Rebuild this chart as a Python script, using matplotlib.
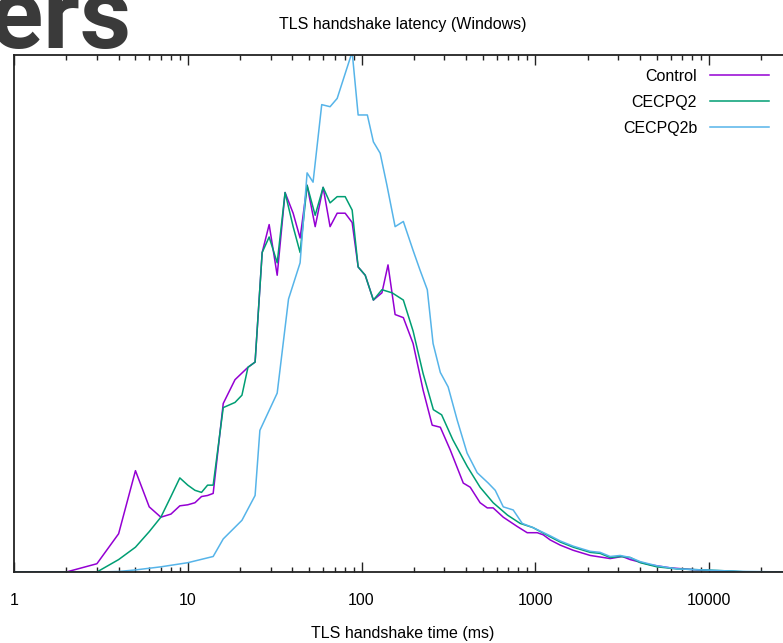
"""TLS handshake latency histogram (Windows), gnuplot-like look."""
import matplotlib
matplotlib.use("Agg")
import matplotlib.pyplot as plt
from matplotlib.ticker import LogLocator, FixedFormatter, FixedLocator, NullFormatter

plt.rcParams["font.family"] = ["Liberation Sans", "DejaVu Sans"]

# handshake time (ms) and share of handshakes (%) per bin
control_ms = [1, 2, 3, 4, 5, 6, 7, 8, 9, 10,
              11, 12, 13, 14, 16, 18.7, 22.2, 24.4, 26.8, 29.4,
              32.7, 36.3, 40.4, 44.3, 48.6, 54.1, 60.1, 65.9, 72.4, 80.5,
              88.3, 95.6, 105, 117, 131, 142, 156, 174, 198, 226,
              255, 284, 324, 385, 422, 481, 529, 572, 654, 787,
              898, 1026, 1110, 1218, 1391, 1652, 2070, 2697, 3164, 3517,
              4582, 5980, 8557, 11150, 15740, 30000]
control_pct = [0, 0, 0.08, 0.37, 0.98, 0.63, 0.53, 0.56, 0.64, 0.65,
               0.67, 0.73, 0.74, 0.76, 1.63, 1.86, 1.98, 2.03, 3.09, 3.36,
               2.87, 3.67, 3.47, 3.23, 3.74, 3.34, 3.72, 3.34, 3.47, 3.47,
               3.38, 2.95, 2.87, 2.63, 2.70, 2.97, 2.49, 2.46, 2.21, 1.76,
               1.42, 1.40, 1.18, 0.86, 0.82, 0.67, 0.62, 0.62, 0.53, 0.44,
               0.38, 0.38, 0.36, 0.31, 0.26, 0.21, 0.16, 0.13, 0.15, 0.12,
               0.07, 0.04, 0.02, 0.01, 0, 0]

cecpq2_ms = [1, 2, 3, 4, 5, 6, 7, 8, 9, 10,
             11, 12, 13, 14, 16, 18.7, 20.5, 22.2, 24.4, 26.8,
             29.4, 32.7, 36.3, 40.4, 44.3, 48.6, 54.1, 60.1, 65.9, 72.4,
             80.5, 88.3, 95.6, 105, 117, 131, 150, 174, 198, 226,
             259, 289, 335, 406, 481, 572, 692, 818, 968, 1218,
             1391, 1652, 2070, 2360, 2697, 3080, 3517, 4020, 5010, 6540,
             9250, 13100, 16400, 30000]
cecpq2_pct = [0, 0, 0, 0.12, 0.24, 0.39, 0.53, 0.73, 0.91, 0.84,
              0.79, 0.77, 0.84, 0.84, 1.59, 1.64, 1.71, 1.98, 2.03, 3.09,
              3.24, 2.99, 3.67, 3.34, 3.09, 3.74, 3.45, 3.72, 3.57, 3.63,
              3.63, 3.50, 2.95, 2.87, 2.63, 2.73, 2.70, 2.63, 2.33, 1.92,
              1.57, 1.52, 1.28, 1.02, 0.82, 0.67, 0.55, 0.47, 0.43, 0.34,
              0.29, 0.24, 0.19, 0.18, 0.14, 0.15, 0.14, 0.09, 0.05, 0.03,
              0.02, 0.01, 0, 0]

cecpq2b_ms = [1, 2, 3, 4, 5, 7, 10, 14, 16, 20.5,
              24.4, 26, 32.7, 38, 44.3, 48.6, 52.6, 59, 65.9, 72.4,
              88.3, 95.6, 108, 117, 128, 140, 156, 174, 198, 217,
              239, 258, 284, 315, 355, 405, 463, 536, 588, 654,
              746, 841, 968, 1218, 1391, 1652, 2070, 2360, 2697, 3080,
              3517, 4020, 5010, 6540, 9250, 13100, 16400, 30000]
cecpq2b_pct = [0, 0, 0, 0.005, 0.02, 0.05, 0.09, 0.15, 0.32, 0.50,
               0.74, 1.37, 1.73, 2.64, 2.99, 3.86, 3.77, 4.52, 4.50, 4.58,
               5.03, 4.42, 4.42, 4.16, 4.05, 3.74, 3.34, 3.39, 3.11, 2.92,
               2.73, 2.21, 1.93, 1.79, 1.47, 1.15, 0.96, 0.86, 0.79, 0.63,
               0.60, 0.47, 0.43, 0.35, 0.30, 0.25, 0.20, 0.19, 0.15, 0.16,
               0.14, 0.10, 0.06, 0.03, 0.02, 0.01, 0.005, 0]

xticks = [1, 10, 100, 1000, 10000]
xtick_labels = ["1", "10", "100", "1000", "10000"]

W, H = 783, 643
fig = plt.figure(figsize=(W / 100, H / 100), dpi=100)

# left, bottom, right, top of the plot box in pixels
L, R, T, B = 14, 792, 55, 572
ax = fig.add_axes([L / W, 1 - B / H, (R - L) / W, (B - T) / H])

ax.plot(control_ms, control_pct, color="#9400d3", lw=1.1, label="Control")
ax.plot(cecpq2_ms, cecpq2_pct, color="#009e73", lw=1.1, label="CECPQ2")
ax.plot(cecpq2b_ms, cecpq2b_pct, color="#56b4e9", lw=1.1, label="CECPQ2b")

ax.set_xscale("log")
ax.set_xlim(1, 30000)
ax.set_ylim(0, 5.0)

ax.xaxis.set_major_locator(FixedLocator(xticks))
ax.xaxis.set_major_formatter(FixedFormatter(xtick_labels))
ax.xaxis.set_minor_locator(LogLocator(base=10, subs=range(2, 10), numticks=20))
ax.xaxis.set_minor_formatter(NullFormatter())
ax.tick_params(axis="x", which="both", direction="in", top=True, bottom=True,
               colors="#222222", labelcolor="black", labelsize=11.5, pad=15)
ax.tick_params(axis="x", which="major", length=7, width=1.0)
ax.tick_params(axis="x", which="minor", length=3.5, width=1.0)
ax.set_yticks([])
for side in ["left", "top", "bottom"]:
    ax.spines[side].set_linewidth(1.3)
    ax.spines[side].set_color("#222222")
ax.spines["right"].set_visible(False)

ax.set_xlabel("TLS handshake time (ms)", fontsize=11.5, labelpad=13)
ax.set_title("TLS handshake latency (Windows)", fontsize=11.5, pad=19)

ax.legend(loc="upper right", bbox_to_anchor=(769 / W, 1 - 69 / H),
          bbox_transform=fig.transFigure, frameon=False, markerfirst=False,
          fontsize=11.5, handlelength=3.7, handletextpad=0.8,
          labelspacing=0.68, borderpad=0, borderaxespad=0)

# cropped page heading visible in the top-left corner of the screenshot
fig.text(132 / W, 1 - 48 / H, "bers", fontsize=72, weight="bold",
         color="#3a3a3a", ha="right", va="baseline",
         family=["Roboto", "DejaVu Sans"])

fig.savefig("out.png", dpi=100)
